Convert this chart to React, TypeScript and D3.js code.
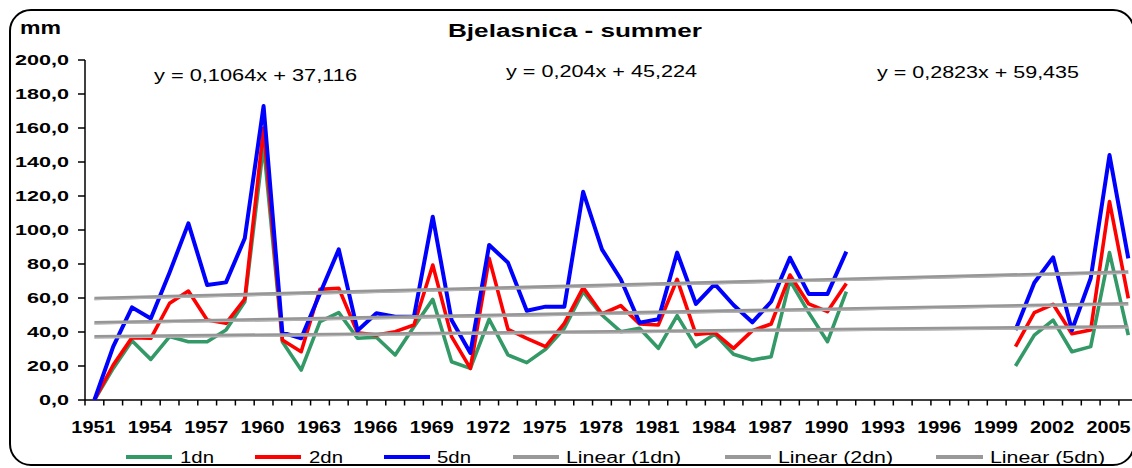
import React from "react";
import * as d3 from "d3";

const years = [
  1951, 1952, 1953, 1954, 1955, 1956, 1957, 1958, 1959, 1960,
  1961, 1962, 1963, 1964, 1965, 1966, 1967, 1968, 1969, 1970,
  1971, 1972, 1973, 1974, 1975, 1976, 1977, 1978, 1979, 1980,
  1981, 1982, 1983, 1984, 1985, 1986, 1987, 1988, 1989, 1990,
  1991, 1992, 1993, 1994, 1995, 1996, 1997, 1998, 1999, 2000,
  2001, 2002, 2003, 2004, 2005, 2006,
];

const oneDay: (number | null)[] = [
  0, 18.6, 34.9, 23.9, 37.3, 34.3, 34.3, 41.2, 57.8, 150,
  34.3, 17.6, 46.1, 51.4, 36.3, 36.9, 26.5, 43.1, 59.2, 22.5,
  18.6, 47.5, 26.5, 22.0, 29.8, 42.2, 63.7, 50.0, 40.2, 42.2,
  30.4, 49.6, 31.4, 38.8, 26.9, 23.5, 25.5, 70.2, 51.4, 34.3,
  63.7, null, null, null, null, null, null, null, null, 20.0,
  38.2, 47.0, 28.4, 31.4, 86.7, 38.2,
];

const twoDay: (number | null)[] = [
  0, 20.6, 36.7, 36.3, 56.9, 64.1, 47.0, 45.1, 59.4, 160,
  35.3, 28.4, 65.1, 65.7, 39.6, 38.2, 40.2, 44.1, 79.4, 37.3,
  18.6, 83.3, 41.6, 36.3, 31.4, 45.1, 66.1, 50.6, 55.5, 44.7,
  44.1, 71.0, 38.6, 39.6, 30.4, 40.8, 44.7, 73.5, 56.5, 52.0,
  68.6, null, null, null, null, null, null, null, null, 31.4,
  51.4, 56.3, 39.0, 41.2, 116.7, 59.8,
];

const fiveDay: (number | null)[] = [
  0, 31.4, 54.5, 47.9, 75.0, 103.9, 67.6, 69.2, 95.1, 172.9,
  39.6, 36.3, 62.7, 88.6, 40.8, 51.0, 49.0, 49.0, 107.8, 47.0,
  27.7, 91.2, 80.8, 52.5, 54.9, 54.9, 122.5, 88.6, 71.0, 45.5,
  47.5, 86.7, 56.5, 68.2, 55.9, 45.7, 57.8, 83.7, 62.4, 62.4,
  87.3, null, null, null, null, null, null, null, null, 41.2,
  69.0, 83.9, 41.0, 71.6, 144.1, 83.3,
];

const seriesNames = ["1dn", "2dn", "5dn"];
const seriesColors = ["#339966", "#FF0000", "#0000FF"];
const trendNames = ["Linear (1dn)", "Linear (2dn)", "Linear (5dn)"];
const trendSlopes = [0.1064, 0.204, 0.2823];
const trendIntercepts = [37.116, 45.224, 59.435];
const trendLabels = ["y = 0,1064x + 37,116", "y = 0,204x + 45,224", "y = 0,2823x + 59,435"];
const yTicks = [0, 20, 40, 60, 80, 100, 120, 140, 160, 180, 200];
const labelYears = [1951, 1954, 1957, 1960, 1963, 1966, 1969, 1972, 1975, 1978, 1981, 1984, 1987, 1990, 1993, 1996, 1999, 2002, 2005];

const FONT = "Arial, 'Liberation Sans', Helvetica, sans-serif";
const W = 1132;
const H = 468;

export default function App() {
  const x = d3.scaleBand<number>().domain(years).range([85, 1137.7]).padding(0);
  const bw = x.bandwidth();
  const cx = (yr: number) => (x(yr) as number) + bw / 2;
  const y = d3.scaleLinear().domain([0, 200]).range([400, 60]);
  const fmt = (v: number) => d3.format(".1f")(v).replace(".", ",");

  const allSeries = [oneDay, twoDay, fiveDay];
  const line = d3
    .line<[number, number | null]>()
    .defined((d) => d[1] !== null)
    .x((d) => cx(d[0]))
    .y((d) => y(d[1] as number));

  const eqPos = [
    { x: 154, y: 81, len: 203 },
    { x: 506, y: 77, len: 191 },
    { x: 877, y: 78, len: 202 },
  ];

  const legendItems = [
    { x0: 126, x1: 172, tx: 180, tl: 34, color: seriesColors[0], label: seriesNames[0] },
    { x0: 255, x1: 301, tx: 309, tl: 34, color: seriesColors[1], label: seriesNames[1] },
    { x0: 384, x1: 430, tx: 437, tl: 34, color: seriesColors[2], label: seriesNames[2] },
    { x0: 513, x1: 559, tx: 566, tl: 115, color: "#999999", label: trendNames[0] },
    { x0: 725, x1: 771, tx: 778, tl: 115, color: "#999999", label: trendNames[1] },
    { x0: 936, x1: 983, tx: 990, tl: 115, color: "#999999", label: trendNames[2] },
  ];

  const first = 0;
  const last = years.length - 1;

  return (
    <svg
      width={W}
      height={H}
      style={{ position: "absolute", left: 0, top: 0, background: "#fff" }}
      fontFamily={FONT}
    >
      <rect x={0} y={0} width={W} height={H} fill="#fff" />
      <rect x={10} y={10} width={1124} height={455} rx={21} ry={21} fill="#fff" stroke="#000" strokeWidth={2} />

      {/* Title */}
      <text x={448} y={37} fontSize={18} fontWeight="bold" textLength={254} lengthAdjust="spacingAndGlyphs">
        Bjelasnica - summer
      </text>
      <text x={20} y={34} fontSize={18} fontWeight="bold" textLength={41} lengthAdjust="spacingAndGlyphs">
        mm
      </text>

      {/* Y axis */}
      <line x1={85} x2={85} y1={60} y2={400} stroke="#000" strokeWidth={1.5} />
      {yTicks.map((t) => (
        <g key={t}>
          <line x1={78} x2={85} y1={y(t)} y2={y(t)} stroke="#000" strokeWidth={1.5} />
          <text
            transform={`translate(69,${y(t) + 5.3}) scale(1.44,1)`}
            textAnchor="end"
            fontSize={15}
            fontWeight="bold"
          >
            {fmt(t)}
          </text>
        </g>
      ))}

      {/* X axis */}
      <line x1={85} x2={1137.7} y1={400} y2={400} stroke="#000" strokeWidth={1.5} />
      {years.map((yr) => (
        <line key={yr} x1={x(yr) as number} x2={x(yr) as number} y1={400} y2={405.5} stroke="#000" strokeWidth={1.5} />
      ))}
      {labelYears.map((yr) => (
        <text
          key={yr}
          transform={`translate(${cx(yr) - 1},433) scale(1.24,1)`}
          textAnchor="middle"
          fontSize={16}
          fontWeight="bold"
        >
          {yr}
        </text>
      ))}

      {/* Series */}
      {allSeries.map((s, k) => (
        <path
          key={k}
          d={line(years.map((yr, i) => [yr, s[i]] as [number, number | null])) || ""}
          fill="none"
          stroke={seriesColors[k]}
          strokeWidth={k === 2 ? 4 : 3.6}
          strokeLinejoin="round"
        />
      ))}

      {/* Trend lines */}
      {trendSlopes.map((m, k) => {
        const pts: [number, number][] = [first, last].map((i) => [cx(years[i]), y(m * (i + 1) + trendIntercepts[k])]);
        return (
          <g key={k}>
            <line x1={pts[0][0]} y1={pts[0][1]} x2={pts[1][0]} y2={pts[1][1]} stroke="#969696" strokeWidth={3.6} />
            <line x1={pts[0][0]} y1={pts[0][1] + 1.2} x2={pts[1][0]} y2={pts[1][1] + 1.2} stroke="#b8b8b8" strokeWidth={1} />
          </g>
        );
      })}

      {/* Equations */}
      {trendLabels.map((t, k) => (
        <text key={k} x={eqPos[k].x} y={eqPos[k].y} fontSize={17} textLength={eqPos[k].len} lengthAdjust="spacingAndGlyphs">
          {t}
        </text>
      ))}

      {/* Legend */}
      {legendItems.map((it, k) => (
        <g key={k}>
          <line x1={it.x0} x2={it.x1} y1={457} y2={457} stroke={it.color} strokeWidth={4} />
          <text x={it.tx} y={463} fontSize={16} textLength={it.tl} lengthAdjust="spacingAndGlyphs">
            {it.label}
          </text>
        </g>
      ))}
    </svg>
  );
}
